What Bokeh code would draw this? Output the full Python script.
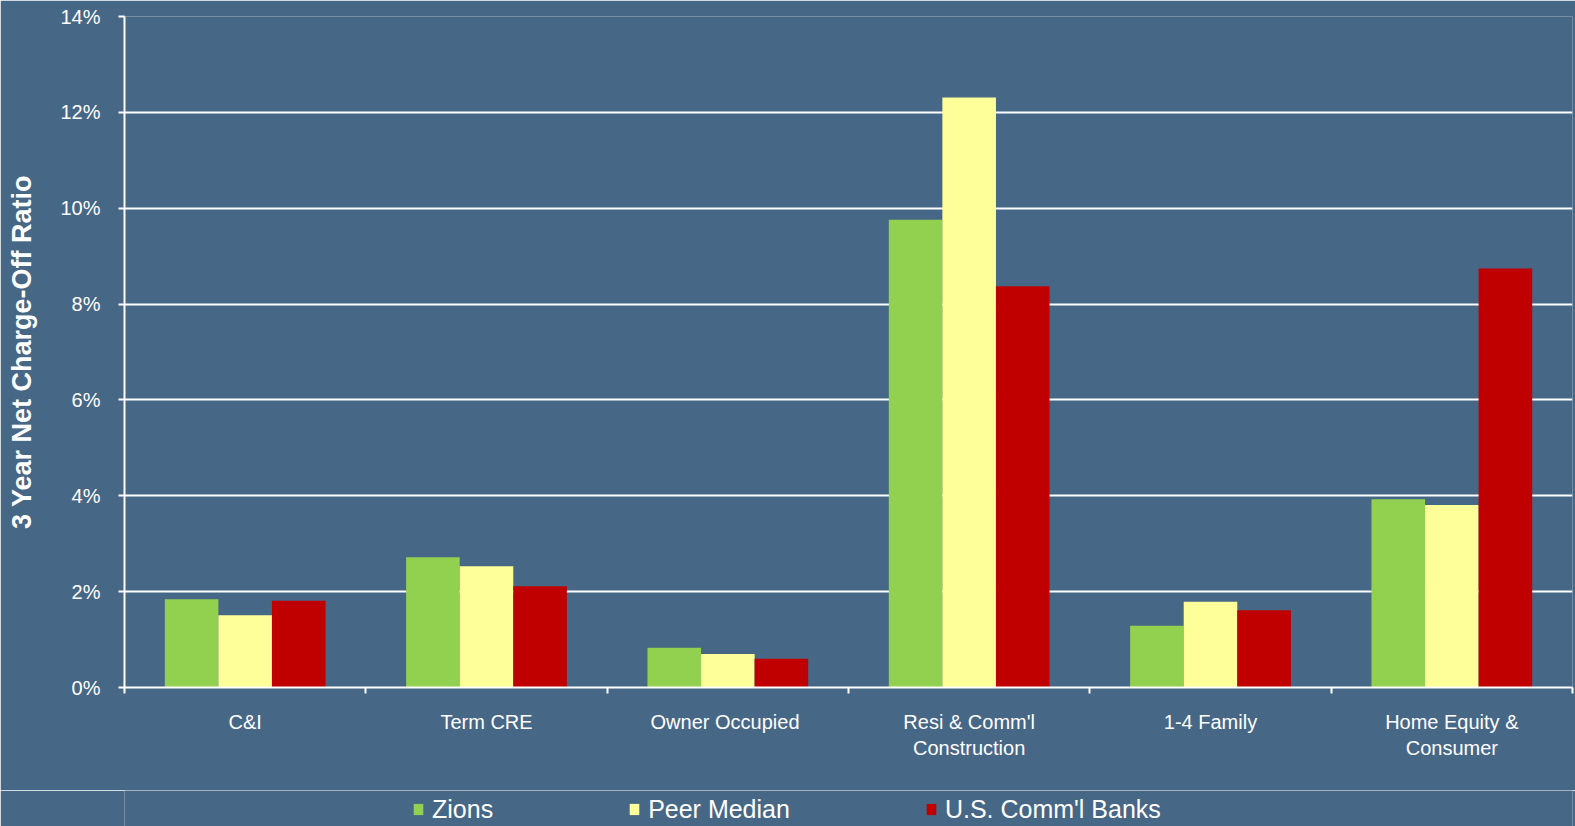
from bokeh.plotting import figure
from bokeh.layouts import column
from bokeh.models import (ColumnDataSource, Range1d, LinearAxis,
                          FixedTicker, PrintfTickFormatter, Legend, LegendItem)
from bokeh.embed import file_html
from bokeh.resources import INLINE

categories = ["C&I", "Term CRE", "Owner  Occupied", "Resi & Comm'l\nConstruction",
              "1-4 Family", "Home Equity &\nConsumer"]
zions = [1.84, 2.72, 0.83, 9.76, 1.29, 3.93]
peer_median = [1.51, 2.53, 0.70, 12.31, 1.79, 3.81]
us_banks = [1.81, 2.11, 0.60, 8.37, 1.61, 8.74]
series_names = ["Zions", "Peer Median", "U.S. Comm'l Banks"]
y_ticks = [0, 2, 4, 6, 8, 10, 12, 14]

BG = "#476787"
FONT = "Liberation Sans"
colors = ["#92D050", "#FFFF99", "#C00000"]

n = len(categories)
centers = [i + 0.5 for i in range(n)]
bounds = list(range(n + 1))
bw = 0.222
src = ColumnDataSource(dict(
    x1=[c - bw for c in centers], x2=centers, x3=[c + bw for c in centers],
    zions=zions, peer=peer_median, banks=us_banks))
series_cols = [("x1", "zions"), ("x2", "peer"), ("x3", "banks")]

p = figure(width=1575, height=790, x_range=Range1d(0, n),
           y_range=Range1d(0, 14), output_backend="svg", toolbar_location=None,
           x_axis_location=None, y_axis_location=None,
           min_border_left=124, min_border_right=3, min_border_top=16, min_border_bottom=103)
p.background_fill_color = BG
p.border_fill_color = BG
p.outline_line_color = None
p.xgrid.visible = False
p.ygrid.grid_line_color = "white"
p.ygrid.grid_line_width = 2
p.ygrid.ticker = FixedTicker(ticks=y_ticks)

for (xc, yc), c in zip(series_cols, colors):
    p.vbar(x=xc, top=yc, width=bw, source=src, fill_color=c, line_color=None)

# y axis
yax = LinearAxis(ticker=FixedTicker(ticks=y_ticks), formatter=PrintfTickFormatter(format="%d%%"))
yax.axis_label = "3 Year Net Charge-Off Ratio"
yax.axis_label_text_font = FONT
yax.axis_label_text_font_style = "bold"
yax.axis_label_text_font_size = "27px"
yax.axis_label_text_color = "white"
yax.axis_label_standoff = 20
yax.major_label_text_font = FONT
yax.major_label_text_font_size = "20px"
yax.major_label_text_color = "white"
yax.major_label_standoff = 18
yax.axis_line_color = "white"
yax.axis_line_width = 2
yax.major_tick_line_color = "white"
yax.major_tick_line_width = 2
yax.major_tick_out = 6
yax.major_tick_in = 0
yax.minor_tick_line_color = None
p.add_layout(yax, "left")

# x axis: labels at category centres, ticks at category boundaries (minor ticks)
cax = LinearAxis(ticker=FixedTicker(ticks=centers, minor_ticks=bounds),
                 major_label_overrides={c: lab for c, lab in zip(centers, categories)})
cax.axis_line_color = "white"
cax.axis_line_width = 2
cax.major_tick_line_color = None
cax.major_tick_out = 0
cax.major_tick_in = 0
cax.minor_tick_line_color = "white"
cax.minor_tick_line_width = 2
cax.minor_tick_out = 6
cax.minor_tick_in = 0
cax.major_label_text_font = FONT
cax.major_label_text_font_size = "20px"
cax.major_label_text_color = "white"
cax.major_label_standoff = 17
p.add_layout(cax, "below")

# legend strip below the chart (bars drawn out of its visible y-range; used only as legend glyph sources)
lg = figure(width=1575, height=36, x_range=Range1d(0, n), y_range=Range1d(100, 101),
            output_backend="svg", toolbar_location=None,
            x_axis_location=None, y_axis_location=None,
            min_border_left=124, min_border_right=3, min_border_top=0, min_border_bottom=0)
lg.background_fill_color = BG
lg.border_fill_color = BG
lg.outline_line_color = None
lg.xgrid.visible = False
lg.ygrid.visible = False
leg_renderers = [lg.vbar(x=xc, top=yc, width=bw, source=src, fill_color=c, line_color=None)
                 for (xc, yc), c in zip(series_cols, colors)]

legend = Legend(items=[LegendItem(label=name, renderers=[r])
                       for name, r in zip(series_names, leg_renderers)],
                orientation="horizontal", location=(288, 2))
legend.background_fill_alpha = 0
legend.border_line_color = None
legend.padding = 0
legend.margin = 0
legend.spacing = 135
legend.glyph_width = 12
legend.glyph_height = 14
legend.label_height = 30
legend.label_standoff = 8
legend.label_text_font = FONT
legend.label_text_font_size = "25px"
legend.label_text_color = "white"
lg.add_layout(legend, "center")

layout = column(p, lg, spacing=0)
open("out.html", "w").write(file_html(layout, INLINE))
